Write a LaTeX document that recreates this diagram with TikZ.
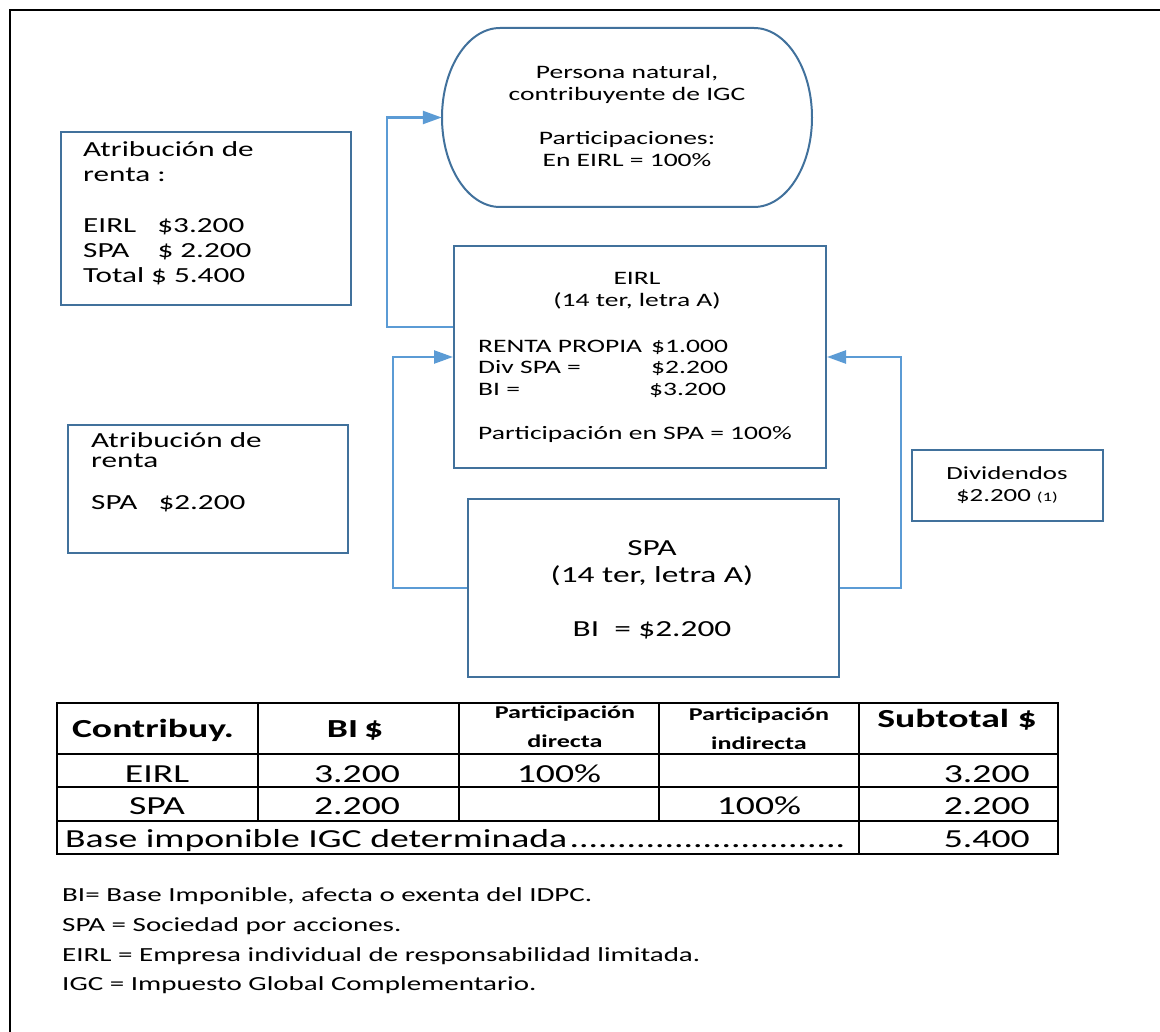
\documentclass[tikz,border=0pt]{standalone}
\usepackage{fontspec}
\setmainfont{Carlito}[FakeStretch=1.45]
\usetikzlibrary{arrows.meta}
\definecolor{boxblue}{RGB}{65,113,156}
\definecolor{lineblue}{RGB}{91,155,213}
\begin{document}
\begin{tikzpicture}[x=1pt,y=-1pt,
  box/.style={draw=boxblue, line width=2pt, rectangle, inner sep=0pt, anchor=north west},
  conn/.style={draw=lineblue, line width=2.4pt, -{Triangle[length=19pt,width=13pt]}},
  txt/.style={inner sep=0pt, align=left},
  tbl/.style={draw=black, line width=2pt},
  cell/.style={inner sep=0pt, anchor=base, font=\fontsize{26}{30}\selectfont},
  head/.style={inner sep=0pt, anchor=base, align=center, font=\bfseries\fontsize{26}{30}\selectfont},
  smallhead/.style={inner sep=0pt, anchor=base, align=center, font=\bfseries\fontsize{18}{29}\selectfont},
  note/.style={inner sep=0pt, anchor=base west, font=\fontsize{20}{24}\selectfont}
]
\useasboundingbox (0,0) rectangle (1160,1032);
% outer frame
\draw[line width=2.5pt] (1160,10) -- (10,10) -- (10,1032);

% top rounded shape
\node[inner sep=0pt, minimum width=370pt, minimum height=179pt] (pn) at (627,117.5) {};
\draw[draw=boxblue, line width=2pt] (500,28) -- (754,28)
  arc[start angle=-90, end angle=90, x radius=58, y radius=89.5] -- (500,207)
  arc[start angle=90, end angle=270, x radius=58, y radius=89.5] -- cycle;
\node[txt, align=center, anchor=base, font=\fontsize{19}{22}\selectfont] (pnt) at (627,167)
  {Persona natural,\\contribuyente de IGC\\[22pt]Participaciones:\\En EIRL = 100\%};

% attribution box 1
\node[box, minimum width=290pt, minimum height=173pt] (attr1) at (60,131) {};
\node[txt, anchor=base west, font=\fontsize{21.5}{25.3}\selectfont] (attr1t) at (83,283)
  {Atribución de\\renta :\\[25.3pt]EIRL \ \ \$3.200\\SPA \ \ \ \$ 2.200\\Total \$ 5.400};

% attribution box 2
\node[box, minimum width=280pt, minimum height=128pt] (attr2) at (67,424) {};
\node[txt, anchor=base west, font=\fontsize{21.5}{20.5}\selectfont] (attr2t) at (91,509)
  {Atribución de\\renta\\[21pt]SPA \ \ \$2.200};

% EIRL box
\node[box, minimum width=372pt, minimum height=222pt] (eirl) at (453,245) {};
\node[txt, align=center, anchor=base, font=\fontsize{19}{22}\selectfont] (eirlh) at (637,307)
  {EIRL\\(14 ter, letra A)};
\node[txt, anchor=base west, font=\fontsize{19}{21.7}\selectfont] (eirlb) at (478,439)
  {\makebox[173pt][l]{RENTA PROPIA}\$1.000\\\makebox[173pt][l]{Div SPA =}\$2.200\\\makebox[171pt][l]{BI =}\$3.200\\[21.7pt]Participación en SPA = 100\%};

% SPA box
\node[box, minimum width=371pt, minimum height=178pt] (spa) at (467,498) {};
\node[txt, align=center, anchor=base, font=\fontsize{23}{27}\selectfont] (spat) at (652,636)
  {SPA\\(14 ter, letra A)\\[27pt]BI \ = \$2.200};

% Dividendos box
\node[box, minimum width=191pt, minimum height=71pt] (div) at (911,449) {};
\node[txt, align=center, anchor=base, font=\fontsize{18.5}{22}\selectfont] (divt) at (1007,501)
  {Dividendos\\\$2.200 {\fontsize{13}{15}\selectfont(1)}};

% connectors
\draw[conn] ([yshift=-82pt]eirl.north west) -- ++(-66,0) |- (pn.west);
\draw[conn] (spa.west) -- ++(-74,0) |- (eirl.west);
\draw[conn] (spa.east) -- ++(61,0) |- (eirl.east);

% table
\draw[tbl] (57,703) rectangle (1058,854);
\draw[tbl] (57,754) -- (1058,754);
\draw[tbl] (57,787) -- (1058,787);
\draw[tbl] (57,821) -- (1058,821);
\draw[tbl] (258,703) -- (258,821);
\draw[tbl] (459,703) -- (459,821);
\draw[tbl] (659,703) -- (659,821);
\draw[tbl] (859,703) -- (859,854);

\node[head] (h1) at (153,737) {Contribuy.};
\node[head] (h2) at (355,737) {BI\hspace{6pt}\$};
\node[smallhead] (h3) at (565,747) {Participación\\directa};
\node[smallhead] (h4) at (759,749) {Participación\\indirecta};
\node[head] (h5) at (957,727) {Subtotal \$};

\node[cell] (r1a) at (157,782) {EIRL};
\node[cell] (r1b) at (357,782) {3.200};
\node[cell] (r1c) at (559,782) {100\%};
\node[cell, anchor=base east] (r1e) at (1030,782) {3.200};
\node[cell] (r2a) at (157,814) {SPA};
\node[cell] (r2b) at (357,814) {2.200};
\node[cell] (r2d) at (759,814) {100\%};
\node[cell, anchor=base east] (r2e) at (1030,814) {2.200};
\node[cell, anchor=base west] (r3a) at (65,847) {\makebox[788pt][l]{Base imponible IGC determinada\leaders\hbox{.}\hfill}};
\node[cell, anchor=base east] (r3e) at (1030,847) {5.400};

% notes
\node[note] (n1) at (62,901) {BI= Base Imponible, afecta o exenta del IDPC.};
\node[note] (n2) at (62,931) {SPA = Sociedad por acciones.};
\node[note] (n3) at (62,961) {EIRL = Empresa individual de responsabilidad limitada.};
\node[note] (n4) at (62,990) {IGC = Impuesto Global Complementario.};
\end{tikzpicture}
\end{document}
